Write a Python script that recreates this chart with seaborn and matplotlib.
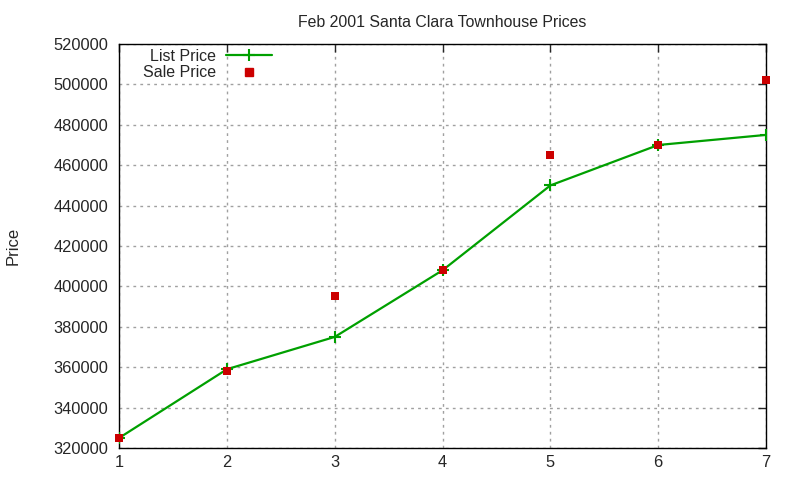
import numpy as np
import pandas as pd
import matplotlib
matplotlib.use("Agg")
import matplotlib.pyplot as plt
from matplotlib.lines import Line2D
import seaborn as sns

TITLE = "Feb 2001 Santa Clara Townhouse Prices"
weeks = [1, 2, 3, 4, 5, 6, 7]
list_price = [325000, 359000, 375000, 408000, 450000, 470000, 475000]
sale_price = [325000, 358000, 395000, 408000, 465000, 470000, 502000]

GREEN = "#00a000"
RED = "#cc0000"

sns.set_style("white")
plt.rcParams["font.family"] = ["Liberation Sans", "DejaVu Sans"]

fig = plt.figure(figsize=(8, 4.8), dpi=100)
ax = fig.add_axes([0.149, 0.0667, 0.8085, 0.8416])

pts = pd.DataFrame({"week": weeks, "list": list_price, "sale": sale_price})

sns.lineplot(data=pts, x="week", y="list", ax=ax, color=GREEN, lw=1.6,
             marker="+", markersize=8, markeredgewidth=1.5, markeredgecolor=GREEN,
             legend=False, zorder=4)
sns.scatterplot(data=pts, x="week", y="sale", ax=ax, marker="s", color=RED,
                s=34, linewidth=0, legend=False, zorder=5, clip_on=False)

ax.set_xlim(1, 7)
ax.set_ylim(320000, 520000)
ax.set_xticks(weeks)
ax.set_yticks(np.arange(320000, 520001, 20000))
ax.grid(True, color="#a0a0a0", linestyle=(0, (2, 3)), linewidth=1)
ax.tick_params(direction="in", length=6, width=1, labelsize=11.8, top=True, right=True,
               labeltop=False, labelright=False)
ax.tick_params(axis="y", pad=8)
ax.tick_params(axis="x", pad=5)
for s in ax.spines.values():
    s.set_color("black")
    s.set_linewidth(1)

ax.set_xlabel("")
ax.set_ylabel("")
fig.text(0.016, 0.487, "Price", rotation=90, ha="center", va="center", fontsize=12)
fig.text(0.553, 0.954, TITLE, ha="center", va="center", fontsize=11.4)

handles = [
    Line2D([], [], color=GREEN, lw=1.6, marker="+", markersize=8, markeredgewidth=1.5),
    Line2D([], [], color=RED, lw=0, marker="s", markersize=6),
]
ax.legend(handles, ["List Price", "Sale Price"], loc="upper left",
          bbox_to_anchor=(0.022, 1.012), markerfirst=False, frameon=False,
          fontsize=11.5, handlelength=2.9, handletextpad=0.6, labelspacing=0.1,
          borderaxespad=0.2)

fig.savefig("out.png", dpi=100)
